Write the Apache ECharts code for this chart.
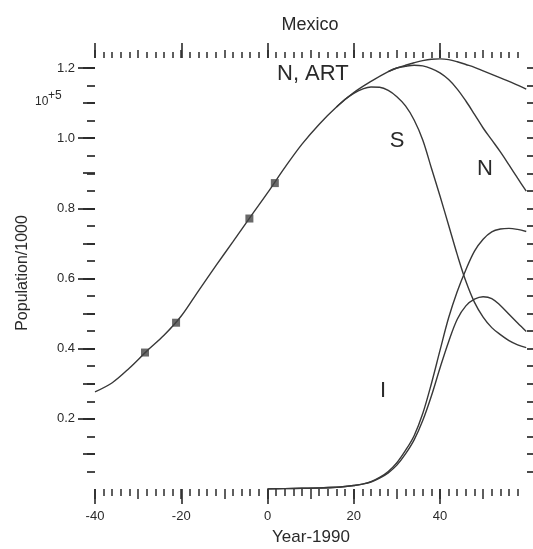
<!DOCTYPE html>
<html>
<head>
<meta charset="utf-8">
<script src="https://cdn.jsdelivr.net/npm/echarts@6/dist/echarts.min.js"></script>
<style>html,body{margin:0;padding:0;background:#fff;}#c{width:533px;height:549px;}</style>
</head>
<body>
<div id="c"></div>
<script>
// ---- data (Year-1990, Population x 10^5) ----
const yearsN = [-40,-36,-32,-28,-24,-20,-16,-12,-8,-4,0,4,8,12,16,20,24,28,30,32,34,36,38,40,42,44,46,48,50,52,54,56,58,60];
const popNART = [0.277,0.303,0.345,0.393,0.438,0.493,0.565,0.636,0.705,0.775,0.844,0.916,0.983,1.04,1.089,1.13,1.162,1.19,1.2,1.208,1.215,1.221,1.225,1.226,1.224,1.218,1.21,1.202,1.192,1.182,1.172,1.162,1.151,1.14];

const yearsNoART = [28,30,32,34,36,38,40,42,44,46,48,50,52,54,56,58,60];
const popN = [1.19,1.2,1.205,1.208,1.206,1.198,1.186,1.167,1.14,1.106,1.068,1.029,0.995,0.961,0.924,0.886,0.849];

const yearsS = [16,18,20,22,24,26,28,30,32,34,36,38,40,42,44,46,48,50,52,54,56,58,60];
const popS = [1.089,1.111,1.128,1.14,1.146,1.145,1.136,1.118,1.092,1.052,0.995,0.915,0.835,0.752,0.668,0.592,0.532,0.49,0.46,0.44,0.423,0.411,0.403];

const yearsI = [0,4,8,12,16,18,20,22,24,26,28,30,32,34,36,38,40,42,44,46,48,50,52,54,56,58,60];
const popIART = [0,0.001,0.002,0.003,0.005,0.007,0.01,0.014,0.021,0.033,0.05,0.075,0.11,0.152,0.215,0.3,0.395,0.488,0.563,0.625,0.678,0.712,0.733,0.741,0.743,0.74,0.734];
const popI = [0,0.001,0.002,0.003,0.005,0.007,0.01,0.014,0.02,0.031,0.046,0.068,0.1,0.14,0.195,0.265,0.345,0.42,0.484,0.522,0.541,0.548,0.543,0.523,0.498,0.473,0.449];

const censusYears = [-28.4,-21.2,-4.2,1.7];
const censusPop = [0.389,0.474,0.771,0.872];

const xTickLabels = [-40,-20,0,20,40];
const yTickLabels = ['0.2','0.4','0.6','0.8','1.0','1.2'];

// ---- chart ----
const FONT = '"Liberation Sans", Arial, Helvetica, sans-serif';
const INK = '#2a2a2a';
const LINE = '#383838';
const zip = (xs, ys) => xs.map((x, i) => [x, ys[i]]);

const tick = (len, w) => ({show: true, length: len, inside: false, lineStyle: {color: INK, width: w}});
const hiddenX = (g) => ({type: 'value', gridIndex: g, show: false, min: 0, max: 1});
const hiddenY = (g) => ({type: 'value', gridIndex: g, show: false, min: 0, max: 1});

function xTickAxis(g, pos, max, interval, len, w, labels) {
  return {
    type: 'value', gridIndex: g, position: pos, min: -40, max: max, interval: interval,
    axisLine: {show: false}, splitLine: {show: false},
    axisTick: tick(len, w),
    axisLabel: labels ? {show: true, margin: 21, fontSize: 13, color: INK, fontFamily: FONT,
      formatter: v => (xTickLabels.indexOf(v) >= 0 ? String(v) : '')} : {show: false}
  };
}
function yTickAxis(g, pos, min, interval, len, w, labels) {
  return {
    type: 'value', gridIndex: g, position: pos, min: min, max: 1.2, interval: interval,
    axisLine: {show: false}, splitLine: {show: false},
    axisTick: tick(len, w),
    axisLabel: labels ? {show: true, margin: 20, fontSize: 13, color: INK, fontFamily: FONT,
      formatter: v => { const s = v.toFixed(1); return yTickLabels.indexOf(s) >= 0 ? s : ''; }} : {show: false}
  };
}

const gridBase = {left: 95, outerBoundsMode: 'none', containLabel: false};
const option = {
  animation: false,
  backgroundColor: '#ffffff',
  grid: [
    Object.assign({}, gridBase, {right: 6.75, top: 57.5, bottom: 60}),   // 0 data
    Object.assign({}, gridBase, {right: 93, top: 58, bottom: 60}),       // 1 x major (max 40)
    Object.assign({}, gridBase, {right: 49.9, top: 58, bottom: 60}),     // 2 x medium (max 50)
    Object.assign({}, gridBase, {right: 15.4, top: 58, bottom: 60}),     // 3 x minor (max 58)
    Object.assign({}, gridBase, {right: 6, top: 68, bottom: 130.2}),     // 4 y major (min 0.2)
    Object.assign({}, gridBase, {right: 6, top: 68, bottom: 95.1}),      // 5 y medium (min 0.1)
    Object.assign({}, gridBase, {right: 6, top: 68, bottom: 77.5})       // 6 y minor (min 0.05)
  ],
  xAxis: [
    {type: 'value', gridIndex: 0, show: false, min: -40, max: 60},
    xTickAxis(1, 'bottom', 40, 20, 15, 1.6, true),
    xTickAxis(1, 'top', 40, 20, 15, 1.6, false),
    xTickAxis(2, 'bottom', 50, 10, 10, 1.5, false),
    xTickAxis(2, 'top', 50, 10, 8, 1.5, false),
    xTickAxis(3, 'bottom', 58, 2, 7, 1.5, false),
    xTickAxis(3, 'top', 58, 2, 6, 1.5, false),
    hiddenX(4), hiddenX(5), hiddenX(6)
  ],
  yAxis: [
    {type: 'value', gridIndex: 0, show: false, min: 0, max: 1.23},
    hiddenY(1), hiddenY(2), hiddenY(3),
    yTickAxis(4, 'left', 0.2, 0.2, 17, 1.7, true),
    yTickAxis(5, 'left', 0.1, 0.1, 12, 1.7, false),
    yTickAxis(6, 'left', 0.05, 0.05, 8, 1.7, false),
    yTickAxis(6, 'right', 0.05, 0.05, 6, 1.7, false)
  ],
  series: [
    {name: 'N, ART', type: 'line', data: zip(yearsN, popNART)},
    {name: 'N', type: 'line', data: zip(yearsNoART, popN)},
    {name: 'S', type: 'line', data: zip(yearsS, popS)},
    {name: 'I, ART', type: 'line', data: zip(yearsI, popIART)},
    {name: 'I', type: 'line', data: zip(yearsI, popI)}
  ].map(s => Object.assign(s, {xAxisIndex: 0, yAxisIndex: 0, smooth: 0.35, showSymbol: false,
      lineStyle: {color: LINE, width: 1.4}, emphasis: {disabled: true}}))
   .concat([{
      name: 'census', type: 'scatter', xAxisIndex: 0, yAxisIndex: 0,
      data: zip(censusYears, censusPop), symbol: 'rect', symbolSize: 8,
      itemStyle: {color: '#444'}, z: 5
   }]),
  graphic: [
    {type: 'text', x: 310, y: 25, style: {text: 'Mexico', font: '18px ' + FONT, fill: INK, textAlign: 'center', textVerticalAlign: 'middle', align: 'center', verticalAlign: 'middle'}},
    {type: 'text', x: 311, y: 537, style: {text: 'Year-1990', font: '17px ' + FONT, fill: INK, textAlign: 'center', textVerticalAlign: 'middle', align: 'center', verticalAlign: 'middle'}},
    {type: 'text', x: 23, y: 273, rotation: Math.PI / 2, style: {text: 'Population/1000', font: '16px ' + FONT, fill: INK, textAlign: 'center', textVerticalAlign: 'middle', align: 'center', verticalAlign: 'middle'}},
    {type: 'text', x: 35, y: 102, style: {text: '10', font: '12px ' + FONT, fill: INK, textAlign: 'left', textVerticalAlign: 'middle', align: 'left', verticalAlign: 'middle'}},
    {type: 'text', x: 48, y: 96, style: {text: '+5', font: '12px ' + FONT, fill: INK, textAlign: 'left', textVerticalAlign: 'middle', align: 'left', verticalAlign: 'middle'}},
    {type: 'text', x: 277, y: 74, style: {text: 'N, ART', font: '22px ' + FONT, fill: INK, textAlign: 'left', textVerticalAlign: 'middle', align: 'left', verticalAlign: 'middle'}},
    {type: 'text', x: 397, y: 141, style: {text: 'S', font: '22px ' + FONT, fill: INK, textAlign: 'center', textVerticalAlign: 'middle', align: 'center', verticalAlign: 'middle'}},
    {type: 'text', x: 485, y: 169, style: {text: 'N', font: '22px ' + FONT, fill: INK, textAlign: 'center', textVerticalAlign: 'middle', align: 'center', verticalAlign: 'middle'}},
    {type: 'text', x: 383, y: 391, style: {text: 'I', font: '22px ' + FONT, fill: INK, textAlign: 'center', textVerticalAlign: 'middle', align: 'center', verticalAlign: 'middle'}}
  ]
};
echarts.init(document.getElementById('c'), null, {renderer: 'canvas'}).setOption(option);
</script>
</body>
</html>
